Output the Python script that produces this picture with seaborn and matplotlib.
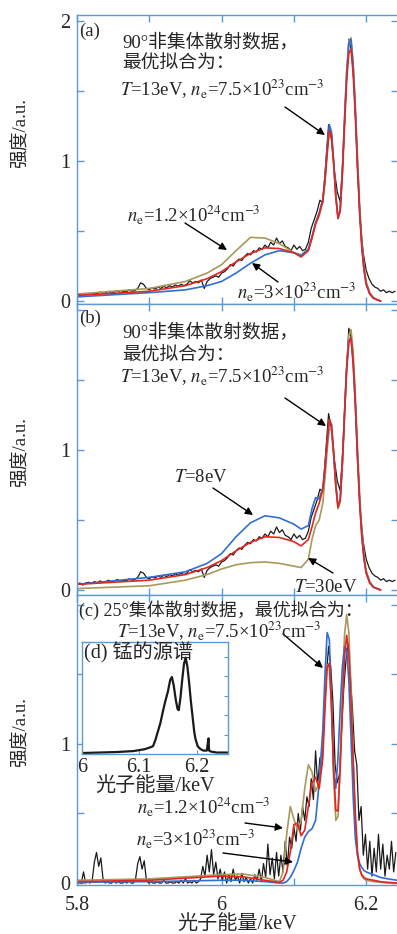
import numpy as np
import matplotlib
matplotlib.use("Agg")
import matplotlib.pyplot as plt
from matplotlib.ticker import MultipleLocator, FixedLocator
import seaborn as sns

# ---- data ----
# 90 degree (non-collective) scattering data, panels (a) and (b), 4 eV steps from 5.800 keV
data90_x = np.round(5.800 + 0.004 * np.arange(111), 3)
data90_y = [0.04, 0.05, 0.035, 0.05, 0.055, 0.045, 0.06, 0.05, 0.065, 0.055, 0.06, 0.07, 0.055, 0.065, 0.075,
            0.06, 0.07, 0.065, 0.08, 0.07, 0.075,
            0.09, 0.13, 0.12, 0.09, 0.08, 0.095, 0.085, 0.1, 0.09, 0.105, 0.095, 0.11, 0.1, 0.115, 0.105,
            0.12, 0.11, 0.12, 0.145, 0.13,
            0.14, 0.13, 0.15, 0.09, 0.14, 0.16, 0.17, 0.18, 0.17, 0.2, 0.21, 0.23, 0.26, 0.25, 0.28,
            0.3, 0.29, 0.32, 0.34, 0.33,
            0.36, 0.35, 0.38, 0.37, 0.40, 0.38, 0.42, 0.40, 0.45, 0.41, 0.43, 0.39, 0.38, 0.36, 0.40,
            0.37, 0.39, 0.36, 0.37, 0.42,
            0.52, 0.58, 0.64, 0.72, 0.70, 0.98, 1.26, 1.15, 0.93, 0.78, 0.71, 1.02, 1.50, 1.87, 1.78,
            1.48, 0.95, 0.55, 0.34, 0.22,
            0.16, 0.12, 0.10, 0.09, 0.07, 0.08, 0.06, 0.07, 0.06, 0.07]

fit_x = [5.80, 5.85, 5.90, 5.95, 5.98, 6.00, 6.02, 6.04, 6.06, 6.08, 6.10, 6.11, 6.12, 6.125, 6.13, 6.135,
         6.14, 6.143, 6.146, 6.149, 6.152, 6.155, 6.158, 6.161, 6.164, 6.167, 6.170, 6.173, 6.176, 6.179,
         6.182, 6.185, 6.188, 6.191, 6.194, 6.197, 6.20, 6.205, 6.21, 6.215, 6.22]
# best fit T=13eV, ne=7.5e23 (red, panels a and b)
fit_best = [0.04, 0.055, 0.07, 0.11, 0.16, 0.21, 0.28, 0.34, 0.38, 0.375, 0.345, 0.315, 0.36, 0.45, 0.55,
            0.62, 0.72, 0.86, 1.06, 1.22, 1.18, 0.98, 0.74, 0.59, 0.64, 0.90, 1.25, 1.58, 1.77, 1.80,
            1.62, 1.32, 0.95, 0.62, 0.38, 0.22, 0.12, 0.05, 0.02, 0.01, 0.0]
# panel (a): ne=3e23 (blue), ne=1.2e24 (olive)
fit_a_low = [0.03, 0.045, 0.06, 0.08, 0.11, 0.14, 0.20, 0.27, 0.33, 0.36, 0.345, 0.325, 0.37, 0.46, 0.56,
             0.63, 0.73, 0.88, 1.09, 1.26, 1.21, 1.0, 0.75, 0.59, 0.65, 0.92, 1.29, 1.63, 1.84, 1.87,
             1.68, 1.36, 0.98, 0.64, 0.39, 0.22, 0.12, 0.05, 0.02, 0.01, 0.0]
fit_a_high = [0.05, 0.07, 0.09, 0.14, 0.20, 0.26, 0.36, 0.455, 0.45, 0.41, 0.345, 0.33, 0.37, 0.45, 0.55,
              0.61, 0.71, 0.85, 1.05, 1.22, 1.19, 0.99, 0.76, 0.60, 0.65, 0.92, 1.30, 1.64, 1.86, 1.88,
              1.70, 1.40, 1.02, 0.68, 0.42, 0.25, 0.14, 0.06, 0.025, 0.01, 0.0]
# panel (b): T=8eV (blue), T=30eV (olive)
fit_b_cold = [0.04, 0.065, 0.09, 0.13, 0.19, 0.26, 0.38, 0.48, 0.53, 0.515, 0.47, 0.435, 0.46, 0.58, 0.66,
              0.65, 0.73, 0.88, 1.06, 1.21, 1.18, 0.98, 0.76, 0.60, 0.64, 0.90, 1.25, 1.58, 1.78, 1.80,
              1.62, 1.32, 0.95, 0.62, 0.38, 0.22, 0.12, 0.05, 0.02, 0.01, 0.0]
fit_b_hot = [0.01, 0.02, 0.03, 0.07, 0.11, 0.15, 0.18, 0.195, 0.20, 0.19, 0.17, 0.16, 0.22, 0.36, 0.46,
             0.50, 0.62, 0.80, 1.0, 1.15, 1.14, 0.96, 0.74, 0.58, 0.63, 0.90, 1.26, 1.60, 1.82, 1.86,
             1.70, 1.40, 1.02, 0.68, 0.42, 0.25, 0.14, 0.06, 0.02, 0.01, 0.0]

# panel (c): 25 degree collective scattering, 3 eV steps from 5.800 keV
data25_x = np.round(5.800 + 0.003 * np.arange(148), 3)
data25_y = [0.0, 0.01, 0.0, 0.08, 0.0, 0.01, 0.0, 0.02, 0.15, 0.22, 0.12, 0.18, 0.03, 0.0, 0.01, 0.0,
            0.0, 0.02, 0.0, 0.01, 0.0, 0.0, 0.01, 0.0, 0.02, 0.0, 0.0, 0.03, 0.14, 0.19, 0.1, 0.16,
            0.02, 0.0, 0.01, 0.0, 0.0, 0.01, 0.0, 0.0, 0.02, 0.0, 0.0, 0.01, 0.0, 0.0, 0.01, 0.0,
            0.02, 0.0, 0.03, 0.0, 0.01, 0.0, 0.02, 0.0, 0.01, 0.03, 0.12, 0.05, 0.2, 0.08, 0.24, 0.06,
            0.15, 0.03, 0.1, 0.02, 0.08, 0.0, 0.06, 0.01, 0.1, 0.02, 0.05, 0.0, 0.07, 0.01, 0.04, 0.0,
            0.03, 0.0, 0.06, 0.02, 0.1, 0.01, 0.14, 0.04, 0.28, 0.06, 0.18, 0.03, 0.22, 0.05, 0.2, 0.08,
            0.3, 0.12, 0.33, 0.25, 0.4, 0.3, 0.5, 0.38, 0.55, 0.45, 0.62, 0.55, 0.75, 0.6, 0.95, 0.7,
            0.9, 0.85, 1.2, 1.5, 1.7, 1.55, 1.3, 0.85, 0.72, 0.78, 1.1, 1.4, 1.6, 1.72, 1.5, 1.25,
            0.95, 0.85, 0.45, 0.55, 0.2, 0.35, 0.1, 0.3, 0.05, 0.25, 0.08, 0.35, 0.1, 0.28, 0.05, 0.2,
            0.1, 0.3, 0.08, 0.22]

fit_c_x = [5.80, 5.85, 5.90, 5.95, 6.00, 6.03, 6.06, 6.08, 6.085, 6.09, 6.095, 6.10, 6.105, 6.11, 6.115,
           6.12, 6.125, 6.13, 6.135, 6.14, 6.143, 6.146, 6.149, 6.152, 6.155, 6.158, 6.161, 6.164, 6.167,
           6.170, 6.173, 6.176, 6.179, 6.182, 6.185, 6.188, 6.191, 6.194, 6.197, 6.20, 6.21, 6.22, 6.23, 6.243]
fit_c_best = [0.01, 0.015, 0.02, 0.035, 0.05, 0.045, 0.02, 0.005, 0.02, 0.08, 0.22, 0.42, 0.43, 0.34, 0.38,
              0.55, 0.72, 0.76, 0.68, 0.90, 1.25, 1.55, 1.58, 1.30, 0.82, 0.52, 0.52, 0.82, 1.25,
              1.62, 1.78, 1.66, 1.30, 0.88, 0.50, 0.22, 0.10, 0.06, 0.04, 0.03, 0.02, 0.01, 0.005, 0.0]
fit_c_low = [0.005, 0.008, 0.01, 0.015, 0.02, 0.02, 0.01, 0.0, 0.0, 0.01, 0.04, 0.09, 0.15, 0.25, 0.33,
             0.37, 0.39, 0.45, 0.72, 1.10, 1.50, 1.80, 1.75, 1.30, 0.80, 0.68, 0.90, 1.25, 1.55,
             1.70, 1.68, 1.45, 1.05, 0.62, 0.32, 0.20, 0.14, 0.11, 0.09, 0.08, 0.06, 0.04, 0.03, 0.02]
fit_c_high = [0.02, 0.025, 0.03, 0.045, 0.06, 0.065, 0.04, 0.01, 0.08, 0.35, 0.55, 0.46, 0.38, 0.45, 0.68,
              0.85, 0.80, 0.66, 0.72, 1.05, 1.35, 1.57, 1.55, 1.25, 0.75, 0.45, 0.48, 0.85, 1.35,
              1.78, 1.93, 1.80, 1.40, 0.90, 0.45, 0.20, 0.10, 0.05, 0.03, 0.02, 0.01, 0.005, 0.0, 0.0]

# inset (d): Mn source spectrum
src_x = [6.0, 6.03, 6.06, 6.09, 6.10, 6.11, 6.115, 6.12, 6.124, 6.128, 6.133, 6.137, 6.141, 6.145, 6.150,
         6.154, 6.157, 6.160, 6.164, 6.167, 6.169, 6.172, 6.175, 6.178, 6.181, 6.184, 6.187, 6.190, 6.193,
         6.196, 6.198, 6.202, 6.207, 6.212, 6.218, 6.220, 6.221, 6.222, 6.225, 6.235, 6.245, 6.255]
src_y = [0.01, 0.015, 0.02, 0.03, 0.04, 0.05, 0.06, 0.07, 0.08, 0.14, 0.24, 0.32, 0.43, 0.53, 0.64,
         0.76, 0.79, 0.71, 0.55, 0.46, 0.45, 0.58, 0.76, 0.92, 0.99, 0.90, 0.74, 0.55, 0.39,
         0.23, 0.16, 0.08, 0.05, 0.035, 0.035, 0.12, 0.16, 0.035, 0.025, 0.015, 0.015, 0.015]

BLUE = "#2f6fd6"
RED = "#e3261f"
OLIVE = "#a8995a"
SPINE = "#5b9bd5"

sns.set_style("ticks")
plt.rcParams['font.family'] = ['Liberation Serif', 'Noto Sans CJK SC']
plt.rcParams['mathtext.fontset'] = 'stix'

W, H = 397, 934
fig = plt.figure(figsize=(W / 100, H / 100), dpi=100)


def px(x, y):
    return (x / W, 1 - y / H)


def add_panel(top, bottom, ylim):
    ax = fig.add_axes([77 / W, 1 - bottom / H, 321 / W, (bottom - top) / H])
    ax.set_xlim(5.8, 6.244)
    ax.set_ylim(*ylim)
    for s in ax.spines.values():
        s.set_color(SPINE)
        s.set_linewidth(1.0)
    ax.xaxis.set_major_locator(FixedLocator([5.8, 6.0, 6.2]))
    ax.xaxis.set_minor_locator(FixedLocator([5.9, 6.1]))
    ax.yaxis.set_major_locator(FixedLocator([0, 1, 2]))
    ax.yaxis.set_minor_locator(FixedLocator([0.5, 1.5]))
    ax.tick_params(which='both', direction='in', top=True, right=True, color=SPINE,
                   length=5, width=1, labelsize=14.5, pad=5)
    ax.set_xticklabels([])
    return ax


ax_a = add_panel(15, 304, (-0.021, 2.043))
ax_b = add_panel(304, 595, (-0.036, 2.043))
ax_c = add_panel(595, 885, (-0.014, 2.07))

ax_a.set_yticklabels(['0', '1', '2'])
ax_b.set_yticklabels(['0', '1', ''])
ax_c.set_yticklabels(['0', '1', ''])
ax_c.set_xticklabels(['5.8', '6', '6.2'])
ax_c.tick_params(axis='x', pad=8)
ax_c.set_xlabel("光子能量/keV", fontsize=14.5, labelpad=0)

for ax, yc in [(ax_a, 133), (ax_b, 452), (ax_c, 732)]:
    ax.set_ylabel("强度/a.u.", fontsize=13.5)
    p0 = ax.get_position()
    ax.yaxis.set_label_coords(-47 / 321, (1 - yc / H - p0.y0) / p0.height)

lw = 1.2
# panel (a)
sns.lineplot(x=data90_x, y=data90_y, ax=ax_a, color='#1a1a1a', lw=0.9, estimator=None)
sns.lineplot(x=fit_x, y=fit_a_high, ax=ax_a, color=OLIVE, lw=lw, estimator=None)
sns.lineplot(x=fit_x, y=fit_a_low, ax=ax_a, color=BLUE, lw=lw, estimator=None)
sns.lineplot(x=fit_x, y=fit_best, ax=ax_a, color=RED, lw=lw, estimator=None)
# panel (b)
sns.lineplot(x=data90_x, y=data90_y, ax=ax_b, color='#1a1a1a', lw=0.9, estimator=None)
sns.lineplot(x=fit_x, y=fit_b_hot, ax=ax_b, color=OLIVE, lw=lw, estimator=None)
sns.lineplot(x=fit_x, y=fit_b_cold, ax=ax_b, color=BLUE, lw=lw, estimator=None)
sns.lineplot(x=fit_x, y=fit_best, ax=ax_b, color=RED, lw=lw, estimator=None)
# panel (c)
sns.lineplot(x=data25_x, y=data25_y, ax=ax_c, color='#1a1a1a', lw=0.9, estimator=None)
sns.lineplot(x=fit_c_x, y=fit_c_high, ax=ax_c, color=OLIVE, lw=lw, estimator=None)
sns.lineplot(x=fit_c_x, y=fit_c_low, ax=ax_c, color=BLUE, lw=lw, estimator=None)
sns.lineplot(x=fit_c_x, y=fit_c_best, ax=ax_c, color=RED, lw=lw, estimator=None)

# inset (d)
ax_d = fig.add_axes([82 / W, 1 - 754 / H, 146 / W, 112 / H])
sns.lineplot(x=src_x, y=src_y, ax=ax_d, color='#1a1a1a', lw=1.6, estimator=None)
ax_d.set_xlim(6.0, 6.255)
ax_d.set_ylim(0, 1.15)
for s in ax_d.spines.values():
    s.set_color(SPINE)
    s.set_linewidth(1.0)
ax_d.xaxis.set_major_locator(FixedLocator([6.0, 6.1, 6.2]))
ax_d.set_xticklabels(['6', '6.1', '6.2'])
ax_d.yaxis.set_major_locator(MultipleLocator(0.2))
ax_d.tick_params(which='both', direction='in', color=SPINE, length=3, labelsize=14.5,
                 left=False, right=True, labelleft=False, pad=3)
ax_d.set_xlabel("光子能量/keV", fontsize=14.5, labelpad=0)
ax_d.set_ylabel("")

# ---- annotations ----
def label(x, y, s, size=13.5):
    fig.text(*px(x, y), s, fontsize=size, ha='left', va='center')


def arrow(x0, y0, x1, y1):
    fig.add_artist(matplotlib.patches.FancyArrowPatch(
        px(x0, y0), px(x1, y1), transform=fig.transFigure, arrowstyle='-|>',
        mutation_scale=11, color='k', lw=1.0, shrinkA=0, shrinkB=0))


best = r"$T$=13eV, $n_{\rm e}$=7.5×10$^{23}$cm$^{-3}$"

label(79, 31, "(a)")
label(122, 42, "90°非集体散射数据，")
label(122, 63, "最优拟合为：")
label(120, 89, best)
arrow(285, 107, 325, 135)
label(127, 215, r"$n_{\rm e}$=1.2×10$^{24}$cm$^{-3}$")
arrow(185, 223, 227, 250)
label(237, 292, r"$n_{\rm e}$=3×10$^{23}$cm$^{-3}$")
arrow(278, 282, 252, 263)

label(79, 318, "(b)")
label(122, 332, "90°非集体散射数据，")
label(122, 355, "最优拟合为：")
label(120, 376, best)
arrow(285, 398, 326, 426)
label(174, 477, r"$T$=8eV")
arrow(213, 488, 253, 515)
label(294, 587, r"$T$=30eV")
arrow(333, 573, 308, 558)

label(79, 610, "(c) 25°集体散射数据，最优拟合为：", size=13)
label(117, 631, best)
arrow(283, 634, 323, 668)
label(84, 653, "(d) 锰的源谱", size=14.5)
label(137, 807, r"$n_{\rm e}$=1.2×10$^{24}$cm$^{-3}$")
arrow(245, 823, 283, 828)
label(136, 838, r"$n_{\rm e}$=3×10$^{23}$cm$^{-3}$")
arrow(223, 853, 293, 862)

fig.savefig("out.png", dpi=100)
